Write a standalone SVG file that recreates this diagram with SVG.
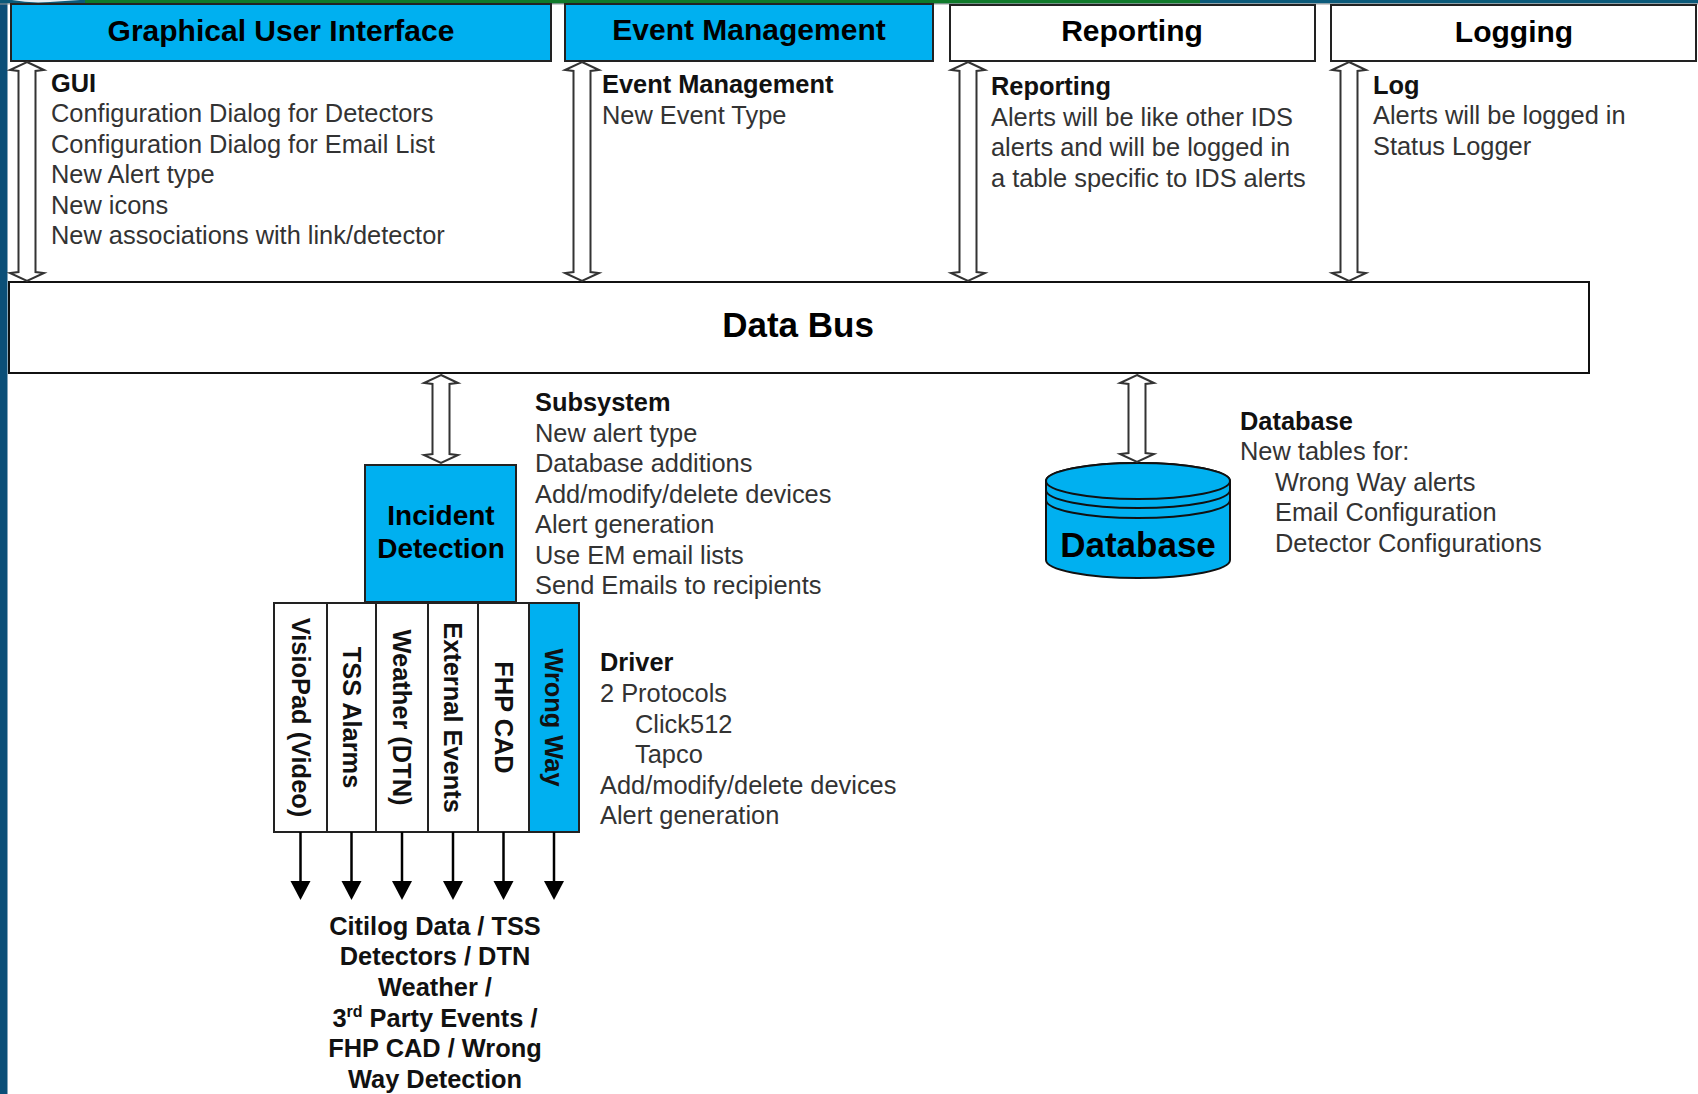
<svg xmlns="http://www.w3.org/2000/svg" width="1698" height="1094" viewBox="0 0 1698 1094">
<style>
.t{font-family:"Liberation Sans",Arial,Helvetica,sans-serif;font-size:25.4px;fill:#333}
.b{font-weight:bold;fill:#111}
.h{font-family:"Liberation Sans",Arial,Helvetica,sans-serif;font-size:30px;font-weight:bold;fill:#000;text-anchor:middle}
.col{font-family:"Liberation Sans",Arial,Helvetica,sans-serif;font-size:25.4px;font-weight:bold;fill:#111;text-anchor:middle}
.blue{fill:#00B0F0;stroke:#222;stroke-width:2}
.white{fill:#fff;stroke:#222;stroke-width:2}
.dbl{fill:#fff;stroke:#333;stroke-width:2;stroke-linejoin:miter}
.down{stroke:#000;stroke-width:2.5;fill:none}
.head{fill:#000}
</style>
<rect x="0" y="0" width="1698" height="1094" fill="#fff"/>
<!-- decorative frame -->
<rect x="0" y="0" width="7.5" height="1094" fill="#0B4F78"/>
<rect x="0" y="0" width="1698" height="3.5" fill="#0B5A7A"/>
<rect x="85" y="0" width="1115" height="3.5" fill="#0F7A2A"/>
<path d="M12,0 Q30,3.5 50,2 L80,0 Z" fill="#e8eef2"/>
<rect x="0" y="3.5" width="1698" height="1" fill="#999"/>

<!-- headers -->
<g id="gui-header"><rect class="blue" x="11" y="4" width="540" height="57"/><text class="h" x="281" y="41">Graphical User Interface</text></g>
<g id="em-header"><rect class="blue" x="565" y="4" width="368" height="57"/><text class="h" x="749" y="40">Event Management</text></g>
<g id="reporting-header"><rect class="white" x="950" y="5" width="365" height="56"/><text class="h" x="1132" y="41">Reporting</text></g>
<g id="logging-header"><rect class="white" x="1331" y="5" width="365" height="56"/><text class="h" x="1514" y="42">Logging</text></g>

<!-- notes -->
<g id="gui-notes">
<text class="t b" x="51" y="91.5">GUI</text>
<text class="t" x="51" y="122">Configuration Dialog for Detectors</text>
<text class="t" x="51" y="152.5">Configuration Dialog for Email List</text>
<text class="t" x="51" y="183">New Alert type</text>
<text class="t" x="51" y="213.5">New icons</text>
<text class="t" x="51" y="244">New associations with link/detector</text>
</g>
<g id="em-notes">
<text class="t b" x="602" y="92.5">Event Management</text>
<text class="t" x="602" y="123.5">New Event Type</text>
</g>
<g id="reporting-notes">
<text class="t b" x="991" y="94.5">Reporting</text>
<text class="t" x="991" y="125.5">Alerts will be like other IDS</text>
<text class="t" x="991" y="156">alerts and will be logged in</text>
<text class="t" x="991" y="186.5">a table specific to IDS alerts</text>
</g>
<g id="log-notes">
<text class="t b" x="1373" y="93.5">Log</text>
<text class="t" x="1373" y="124">Alerts will be logged in</text>
<text class="t" x="1373" y="154.5">Status Logger</text>
</g>

<!-- data bus -->
<g id="data-bus"><rect x="9" y="282" width="1580" height="91" fill="#fff" stroke="#111" stroke-width="2"/><text x="798" y="337" font-family="Liberation Sans,Arial,sans-serif" font-size="35" font-weight="bold" text-anchor="middle" fill="#000">Data Bus</text></g>

<!-- incident detection -->
<g id="incident-detection"><rect class="blue" x="365" y="465" width="151" height="137"/>
<text x="441" y="525" font-family="Liberation Sans,Arial,sans-serif" font-size="28" font-weight="bold" text-anchor="middle" fill="#000">Incident</text>
<text x="441" y="558" font-family="Liberation Sans,Arial,sans-serif" font-size="28" font-weight="bold" text-anchor="middle" fill="#000">Detection</text></g>

<g id="subsystem-notes">
<text class="t b" x="535" y="411">Subsystem</text>
<text class="t" x="535" y="441.5">New alert type</text>
<text class="t" x="535" y="472">Database additions</text>
<text class="t" x="535" y="502.5">Add/modify/delete devices</text>
<text class="t" x="535" y="533">Alert generation</text>
<text class="t" x="535" y="563.5">Use EM email lists</text>
<text class="t" x="535" y="594">Send Emails to recipients</text>
</g>

<!-- driver columns -->
<g id="driver-visiopad"><rect class="white" x="274" y="603" width="53" height="229"/><text class="col" transform="translate(300.5,717.5) rotate(90)" dy="0.35em">VisioPad (Video)</text></g>
<g id="driver-tss"><rect class="white" x="327" y="603" width="49" height="229"/><text class="col" transform="translate(351.5,717.5) rotate(90)" dy="0.35em">TSS Alarms</text></g>
<g id="driver-weather"><rect class="white" x="376" y="603" width="52" height="229"/><text class="col" transform="translate(402,717.5) rotate(90)" dy="0.35em">Weather (DTN)</text></g>
<g id="driver-external"><rect class="white" x="428" y="603" width="50" height="229"/><text class="col" transform="translate(453,717.5) rotate(90)" dy="0.35em">External Events</text></g>
<g id="driver-fhp"><rect class="white" x="478" y="603" width="51" height="229"/><text class="col" transform="translate(503.5,717.5) rotate(90)" dy="0.35em">FHP CAD</text></g>
<g id="driver-wrongway"><rect class="blue" x="529" y="603" width="50" height="229"/><text class="col" transform="translate(554,717.5) rotate(90)" dy="0.35em">Wrong Way</text></g>

<g id="driver-notes">
<text class="t b" x="600" y="671">Driver</text>
<text class="t" x="600" y="702">2 Protocols</text>
<text class="t" x="635" y="732.5">Click512</text>
<text class="t" x="635" y="763">Tapco</text>
<text class="t" x="600" y="793.5">Add/modify/delete devices</text>
<text class="t" x="600" y="824">Alert generation</text>
</g>

<!-- database -->
<g id="database">
<path d="M1046,481 V560 A92,18 0 0 0 1230,560 V481 A92,18 0 0 0 1046,481 Z" fill="#00B0F0" stroke="#111" stroke-width="2"/>
<ellipse cx="1138" cy="481" rx="92" ry="18" fill="#00B0F0" stroke="#111" stroke-width="2"/>
<path d="M1046,490 A92,18 0 0 0 1230,490 M1046,500 A92,18 0 0 0 1230,500" fill="none" stroke="#111" stroke-width="2"/>
<text x="1138" y="557" font-family="Liberation Sans,Arial,sans-serif" font-size="35" font-weight="bold" text-anchor="middle" fill="#000">Database</text>
</g>
<g id="database-notes">
<text class="t b" x="1240" y="429.5">Database</text>
<text class="t" x="1240" y="460">New tables for:</text>
<text class="t" x="1275" y="490.5">Wrong Way alerts</text>
<text class="t" x="1275" y="521">Email Configuration</text>
<text class="t" x="1275" y="551.5">Detector Configurations</text>
</g>

<g id="output-label" font-family="Liberation Sans,Arial,sans-serif" font-size="25.4" font-weight="bold" fill="#111" text-anchor="middle">
<text x="435" y="935">Citilog Data / TSS</text>
<text x="435" y="965">Detectors / DTN</text>
<text x="435" y="996">Weather /</text>
<text x="435" y="1027">3<tspan font-size="16" dy="-10">rd</tspan><tspan dy="10"> Party Events /</tspan></text>
<text x="435" y="1057">FHP CAD / Wrong</text>
<text x="435" y="1088">Way Detection</text>
</g>

<!-- connectors -->
<g id="connectors">
<path class="dbl" d="M27,62 L44,70 L35.5,71 V272 L44,273 L27,281 L10,273 L18.5,272 V71 L10,70 Z"/>
<path class="dbl" d="M582,62 L599,70 L590.5,71 V272 L599,273 L582,281 L565,273 L573.5,272 V71 L565,70 Z"/>
<path class="dbl" d="M968,62 L985,70 L976.5,71 V272 L985,273 L968,281 L951,273 L959.5,272 V71 L951,70 Z"/>
<path class="dbl" d="M1349,62 L1366,70 L1357.5,71 V272 L1366,273 L1349,281 L1332,273 L1340.5,272 V71 L1332,70 Z"/>
<path class="dbl" d="M441,375 L458,383 L449.5,384 V454 L458,455 L441,463 L424,455 L432.5,454 V384 L424,383 Z"/>
<path class="dbl" d="M1137,375 L1154,383 L1145.5,384 V453 L1154,454 L1137,462 L1120,454 L1128.5,453 V384 L1120,383 Z"/>
<path class="down" d="M300.5,832 V884"/><path class="head" d="M290.5,881 H310.5 L300.5,900 Z"/>
<path class="down" d="M351.5,832 V884"/><path class="head" d="M341.5,881 H361.5 L351.5,900 Z"/>
<path class="down" d="M402,832 V884"/><path class="head" d="M392,881 H412 L402,900 Z"/>
<path class="down" d="M453,832 V884"/><path class="head" d="M443,881 H463 L453,900 Z"/>
<path class="down" d="M503.5,832 V884"/><path class="head" d="M493.5,881 H513.5 L503.5,900 Z"/>
<path class="down" d="M554,832 V884"/><path class="head" d="M544,881 H564 L554,900 Z"/>
</g>
</svg>
